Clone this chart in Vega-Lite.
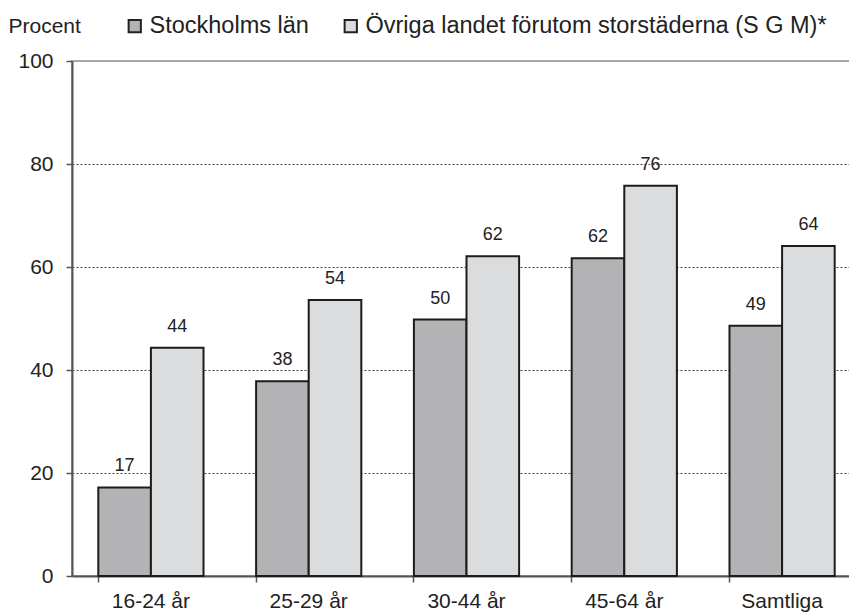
{
  "$schema": "https://vega.github.io/schema/vega-lite/v6.json",
  "autosize": {"type": "none"},
  "padding": {"left": 72, "top": 61, "right": 0, "bottom": 36},
  "width": 789,
  "height": 515,
  "background": "white",
  "config": {
    "font": "Liberation Sans",
    "view": {"stroke": "#a8a8a8", "strokeWidth": 2},
    "axis": {"labelFont": "Liberation Sans", "titleFont": "Liberation Sans", "labelColor": "#222", "titleColor": "#222"},
    "legend": {"labelFont": "Liberation Sans"}
  },
  "data": {
    "values": [
      {"group": "16-24 år", "series": "Stockholms län", "value": 17.2},
      {"group": "16-24 år", "series": "Övriga landet förutom storstäderna (S G M)*", "value": 44.3},
      {"group": "25-29 år", "series": "Stockholms län", "value": 37.8},
      {"group": "25-29 år", "series": "Övriga landet förutom storstäderna (S G M)*", "value": 53.6},
      {"group": "30-44 år", "series": "Stockholms län", "value": 49.8},
      {"group": "30-44 år", "series": "Övriga landet förutom storstäderna (S G M)*", "value": 62.1},
      {"group": "45-64 år", "series": "Stockholms län", "value": 61.7},
      {"group": "45-64 år", "series": "Övriga landet förutom storstäderna (S G M)*", "value": 75.8},
      {"group": "Samtliga", "series": "Stockholms län", "value": 48.6},
      {"group": "Samtliga", "series": "Övriga landet förutom storstäderna (S G M)*", "value": 64.1}
    ]
  },
  "encoding": {
    "xOffset": {"field": "series", "type": "nominal", "sort": null, "scale": {"paddingInner": 0, "paddingOuter": 0}},
    "y": {
      "field": "value", "type": "quantitative",
      "scale": {"domain": [0, 100], "nice": false},
      "axis": {
        "values": [0, 20, 40, 60, 80, 100],
        "title": "Procent", "titleAngle": 0, "titleX": -64, "titleY": -35,
        "titleAlign": "left", "titleBaseline": "middle", "titleFontSize": 21, "titleFontWeight": "normal",
        "labelFontSize": 21, "labelPadding": 13, "tickSize": 6, "tickColor": "#555", "tickWidth": 1.5,
        "domainColor": "#555", "domainWidth": 2,
        "grid": true, "gridColor": "#444", "gridDash": [2, 2], "gridWidth": 1,
        "gridOpacity": {"condition": {"test": "datum.value === 0 || datum.value === 100", "value": 0}, "value": 1}
      }
    }
  },
  "layer": [
    {
      "mark": {"type": "bar", "stroke": "#1c1c1c", "strokeWidth": 2},
      "encoding": {
        "x": {
          "field": "group", "type": "nominal", "sort": null,
          "scale": {"paddingInner": 0.3333, "paddingOuter": 0.1667},
          "axis": {
            "title": null, "labelAngle": 0, "ticks": false, "tickSize": 0,
            "labelPadding": 14, "labelFontSize": 21, "labelBaseline": "top",
            "domainColor": "#555", "domainWidth": 2
          }
        },
        "color": {
          "field": "series", "type": "nominal", "sort": null,
          "scale": {"domain": ["Stockholms län", "Övriga landet förutom storstäderna (S G M)*"], "range": ["#b3b3b5", "#dbdcdd"]},
          "legend": {
            "title": null, "orient": "none", "direction": "horizontal",
            "legendX": 51, "legendY": -47, "padding": 0,
            "symbolType": "square", "symbolSize": 150, "symbolStrokeColor": "#222", "symbolStrokeWidth": 2,
            "labelFontSize": 23.5, "labelColor": "#222", "labelOffset": 3, "columnPadding": 30, "labelLimit": 700
          }
        }
      }
    },
    {
      "mark": {"type": "text", "baseline": "alphabetic", "dy": -16, "fontSize": 18, "color": "#222", "font": "Liberation Sans"},
      "encoding": {
        "x": {"field": "group", "type": "nominal", "sort": null, "axis": null},
        "text": {"field": "value", "type": "quantitative", "format": ".0f"}
      }
    },
    {
      "mark": {"type": "point", "opacity": 0},
      "encoding": {
        "x": {
          "field": "group", "type": "nominal", "sort": null,
          "axis": {"title": null, "orient": "bottom", "labels": false, "domain": false, "grid": false, "ticks": true, "tickSize": 6, "tickColor": "#555", "tickWidth": 1.5, "bandPosition": 0}
        }
      }
    }
  ],
  "resolve": {"axis": {"x": "independent"}}
}
